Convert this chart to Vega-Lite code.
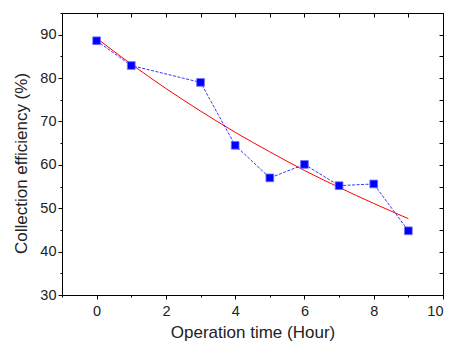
{
  "$schema": "https://vega.github.io/schema/vega-lite/v6.json",
  "width": 381,
  "height": 282,
  "autosize": "none",
  "padding": {"left": 62, "top": 13, "right": 7, "bottom": 50},
  "background": "white",
  "config": {
    "view": {"stroke": "black", "strokeWidth": 1},
    "axis": {"domain": false, "grid": false, "tickColor": "black", "labelColor": "#222", "labelFont": "Liberation Sans", "labelFontSize": 14.5, "titleFont": "Liberation Sans", "titleFontSize": 17, "titleFontWeight": "normal", "titleColor": "#222"}
  },
  "datasets": {
    "points": [
      {"t": 0, "eff": 88.6},
      {"t": 1, "eff": 82.9},
      {"t": 3, "eff": 79.0},
      {"t": 4, "eff": 64.5},
      {"t": 5, "eff": 57.0},
      {"t": 6, "eff": 60.1},
      {"t": 7, "eff": 55.2},
      {"t": 8, "eff": 55.6},
      {"t": 9, "eff": 44.8}
    ],
    "fit": [
      {"t": 0, "eff": 89.2},
      {"t": 1, "eff": 83.2},
      {"t": 2, "eff": 77.6},
      {"t": 3, "eff": 72.4},
      {"t": 4, "eff": 67.5},
      {"t": 5, "eff": 63.0},
      {"t": 6, "eff": 58.7},
      {"t": 7, "eff": 54.8},
      {"t": 8, "eff": 51.1},
      {"t": 9, "eff": 47.6}
    ]
  },
  "layer": [
    {
      "data": {"name": "fit"},
      "mark": {"type": "line", "color": "#ff0000", "strokeWidth": 1, "interpolate": "monotone"},
      "encoding": {
        "x": {"field": "t", "type": "quantitative", "scale": {"domain": [-1, 10], "nice": false, "zero": false},
          "axis": {"orient": "bottom", "values": [0, 2, 4, 6, 8, 10], "tickSize": 4, "labelPadding": 5, "title": "Operation time (Hour)", "titlePadding": 7}},
        "y": {"field": "eff", "type": "quantitative", "scale": {"domain": [30, 95], "nice": false, "zero": false},
          "axis": {"orient": "left", "values": [30, 40, 50, 60, 70, 80, 90], "tickSize": 4, "labelPadding": 2, "title": "Collection efficiency (%)", "titlePadding": 9, "titleY": 150}}
      }
    },
    {
      "data": {"name": "points"},
      "mark": {"type": "line", "color": "#0000ff", "strokeWidth": 0.8, "strokeDash": [3, 1.5]},
      "encoding": {
        "x": {"field": "t", "type": "quantitative", "scale": {"domain": [-1, 10], "nice": false, "zero": false},
          "axis": {"orient": "bottom", "values": [-1, 1, 3, 5, 7, 9], "tickSize": 2, "labels": false, "title": null}},
        "y": {"field": "eff", "type": "quantitative", "scale": {"domain": [30, 95], "nice": false, "zero": false},
          "axis": {"orient": "left", "values": [35, 45, 55, 65, 75, 85, 95], "tickSize": 2, "labels": false, "title": null}}
      }
    },
    {
      "data": {"name": "points"},
      "mark": {"type": "point", "shape": "square", "filled": true, "size": 60, "color": "#0000ff", "stroke": "#7070ff", "strokeWidth": 0.8, "opacity": 1},
      "encoding": {
        "x": {"field": "t", "type": "quantitative", "scale": {"domain": [-1, 10], "nice": false, "zero": false},
          "axis": {"orient": "top", "values": [-1, 0, 1, 2, 3, 4, 5, 6, 7, 8, 9, 10], "tickSize": -4, "labels": false, "title": null}},
        "y": {"field": "eff", "type": "quantitative", "scale": {"domain": [30, 95], "nice": false, "zero": false},
          "axis": {"orient": "right", "values": [30, 35, 40, 45, 50, 55, 60, 65, 70, 75, 80, 85, 90, 95], "tickSize": -4, "labels": false, "title": null}}
      }
    }
  ],
  "resolve": {"axis": {"x": "independent", "y": "independent"}}
}
